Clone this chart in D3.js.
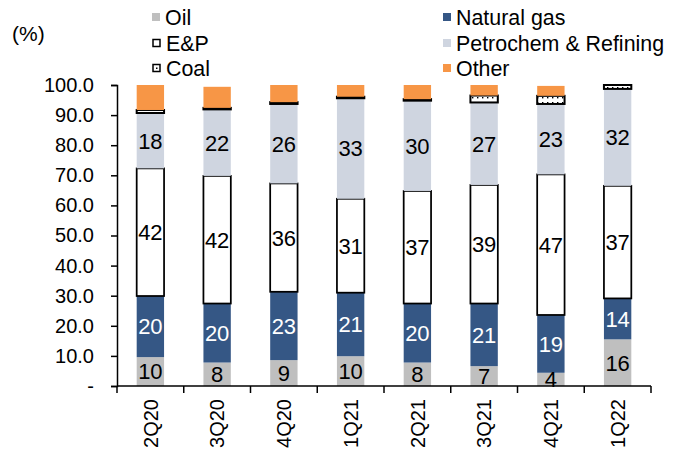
<!DOCTYPE html>
<html lang="en">
<head>
    <meta charset="UTF-8">
    <title>Revenue mix by segment</title>
    <script src="https://d3js.org/d3.v7.min.js"></script>
    <style>
        body { margin: 0; background: #fff; }
        text { font-family: "Liberation Sans", Arial, sans-serif; }
    </style>
</head>
<body>
    <svg width="678" height="454"></svg>

    <script>
        // Data (share of total, %)
        const quarters = ["2Q20", "3Q20", "4Q20", "1Q21", "2Q21", "3Q21", "4Q21", "1Q22"];
        const oil   = [9.6, 7.8, 8.6, 9.9, 7.8, 6.6, 4.4, 15.5];
        const gas   = [20.3, 19.6, 22.7, 21.1, 19.6, 20.8, 19.2, 13.6];
        const ep    = [42.4, 42.4, 36.0, 31.2, 37.4, 39.4, 46.7, 37.4];
        const petro = [18.4, 22.1, 26.4, 33.4, 30.0, 27.4, 23.4, 32.2];
        const coal  = [1.0, 0.5, 0.6, 0.5, 0.5, 2.3, 2.7, 1.3];
        const other = [8.3, 7.0, 5.7, 3.9, 4.7, 3.5, 3.3, 0];
        const yTicks = [0, 10, 20, 30, 40, 50, 60, 70, 80, 90, 100];

        const series = [
            { name: "Oil", values: oil, fill: "#bfbfbf", label: "#000" },
            { name: "Natural gas", values: gas, fill: "#355785", label: "#fff" },
            { name: "E&P", values: ep, fill: "#fff", stroke: true, label: "#000" },
            { name: "Petrochem & Refining", values: petro, fill: "#cfd5e0", label: "#000" },
            { name: "Coal", values: coal, fill: "url(#dots)", stroke: true },
            { name: "Other", values: other, fill: "#f79646" }
        ];

        const svg = d3.select("svg");

        // dotted fill for coal
        const pat = svg.append("defs").append("pattern")
            .attr("id", "dots")
            .attr("width", 5).attr("height", 5)
            .attr("patternUnits", "userSpaceOnUse");
        pat.append("rect").attr("width", 5).attr("height", 5).attr("fill", "#fff");
        pat.append("rect").attr("x", 2).attr("y", 2).attr("width", 1.4).attr("height", 1.4).attr("fill", "#000");

        const x = d3.scaleBand().domain(quarters).range([117, 651]).paddingInner(0.59).paddingOuter(0.295);
        const y = d3.scaleLinear().domain([0, 100]).range([386, 85]);

        // stack the segments
        const stacked = [];
        quarters.forEach((q, i) => {
            let base = 0;
            series.forEach(s => {
                const v = s.values[i];
                stacked.push({ q, s, v, y0: base, y1: base + v });
                base += v;
            });
        });

        svg.append("g")
            .selectAll("rect")
            .data(stacked.filter(d => d.v > 0))
            .join("rect")
            .attr("x", d => x(d.q))
            .attr("width", x.bandwidth())
            .attr("y", d => y(d.y1))
            .attr("height", d => y(d.y0) - y(d.y1))
            .attr("fill", d => d.s.fill)
            .attr("stroke", d => d.s.stroke ? "#000" : "none")
            .attr("stroke-width", d => d.s.name === "Coal" ? 2 : 1.75);

        // value labels
        svg.append("g")
            .selectAll("text")
            .data(stacked.filter(d => d.s.label))
            .join("text")
            .attr("x", d => x(d.q) + x.bandwidth() / 2)
            .attr("y", d => y((d.y0 + d.y1) / 2))
            .attr("dy", "0.36em")
            .attr("text-anchor", "middle")
            .attr("fill", d => d.s.label)
            .style("font-size", "22px")
            .text(d => Math.round(d.v));

        // y axis
        const yAxis = svg.append("g")
            .attr("transform", "translate(117,0)")
            .call(d3.axisLeft(y).tickValues(yTicks).tickSize(6).tickPadding(17)
                .tickFormat(d => d === 0 ? "-" : d3.format(".1f")(d)));
        yAxis.select(".domain").attr("stroke-width", 1.5);
        yAxis.selectAll(".tick line").attr("stroke-width", 1.5);
        yAxis.selectAll("text").style("font-size", "20px").attr("fill", "#000");

        // x axis: ticks between categories
        const xAxis = svg.append("g").attr("transform", "translate(0,386)");
        xAxis.append("line").attr("x1", 117).attr("x2", 651).attr("stroke", "#000").attr("stroke-width", 1.5);
        const step = x.step();
        xAxis.selectAll("line.tk")
            .data(d3.range(quarters.length + 1))
            .join("line")
            .attr("class", "tk")
            .attr("x1", i => 117 + i * step).attr("x2", i => 117 + i * step)
            .attr("y1", 0).attr("y2", 7)
            .attr("stroke", "#000").attr("stroke-width", 1.5);
        xAxis.selectAll("text")
            .data(quarters)
            .join("text")
            .attr("transform", d => `translate(${x(d) + x.bandwidth() / 2},13) rotate(-90)`)
            .attr("dy", "0.36em")
            .attr("text-anchor", "end")
            .style("font-size", "20px")
            .text(d => d);

        // unit
        svg.append("text").attr("x", 12).attr("y", 41).style("font-size", "21px").text("(%)");

        // legend
        const legendPos = [[152, 17], [443, 17], [152, 43], [443, 43], [152, 68], [443, 68]];
        const legendOrder = ["Oil", "Natural gas", "E&P", "Petrochem & Refining", "Coal", "Other"];
        const lg = svg.append("g")
            .selectAll("g")
            .data(legendOrder.map((n, i) => ({ s: series.find(s => s.name === n), p: legendPos[i] })))
            .join("g")
            .attr("transform", d => `translate(${d.p[0]},${d.p[1]})`);
        lg.append("rect")
            .attr("x", d => d.s.stroke ? 1 : 0)
            .attr("y", d => d.s.stroke ? -3.5 : -4)
            .attr("width", d => d.s.stroke ? 7 : 8)
            .attr("height", d => d.s.stroke ? 7 : 8)
            .attr("fill", d => d.s.name === "Coal" ? "#fff" : d.s.fill)
            .attr("stroke", d => d.s.stroke ? "#000" : "none")
            .attr("stroke-width", 1.5);
        lg.filter(d => d.s.name === "Coal").append("rect")
            .attr("x", 4).attr("y", -0.5).attr("width", 1.5).attr("height", 1.5).attr("fill", "#000");
        lg.append("text")
            .attr("x", d => d.s.stroke ? 14 : 13)
            .attr("dy", "0.36em")
            .style("font-size", "21.4px")
            .text(d => d.s.name);
    </script>
</body>
</html>
